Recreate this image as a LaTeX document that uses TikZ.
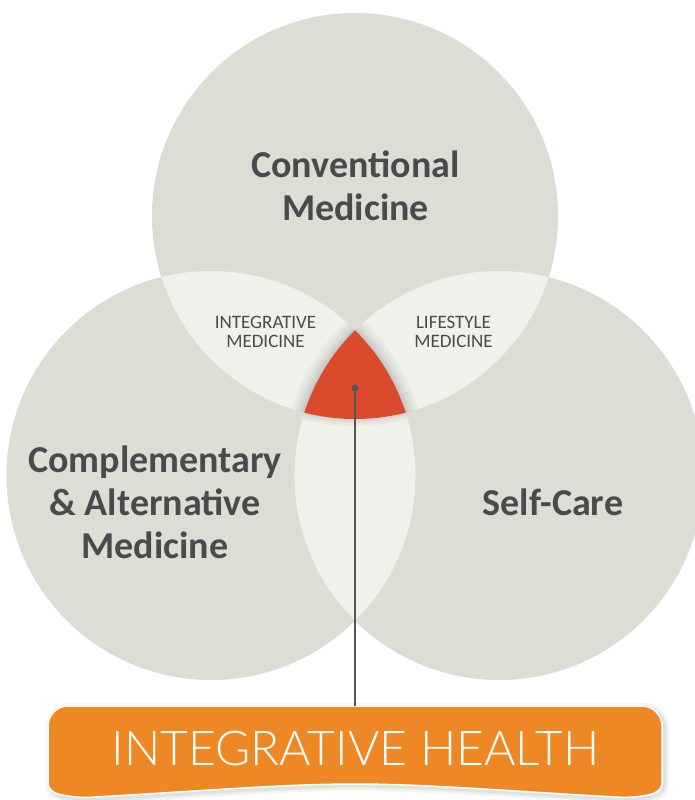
\documentclass[tikz,border=0pt]{standalone}
\usepackage{fontspec}
\setmainfont{Carlito}
\IfFontExistsTF{Lato Light}{\newfontfamily\lightfont{Lato Light}}{\newfontfamily\lightfont{Lato}}
\definecolor{circ}{HTML}{DCDDD4}
\definecolor{lens}{HTML}{F1F1EC}
\definecolor{core}{HTML}{DA4A2C}
\definecolor{boxor}{HTML}{EE8825}
\definecolor{txt}{HTML}{4A4A4C}
\definecolor{linec}{HTML}{555555}
\tikzset{
  big/.style={font=\fontsize{38}{43}\selectfont\bfseries, text=txt, align=center, inner sep=0pt},
  small/.style={font=\fontsize{19}{19}\selectfont, text=txt, align=center, inner sep=0pt},
  title/.style={font=\lightfont\fontsize{48}{48}\selectfont, text=white, inner sep=0pt},
  shade/.style={draw=black, draw opacity=0.035}
}
\begin{document}
\begin{tikzpicture}[x=1pt,y=-1pt]
\useasboundingbox (0,0) rectangle (694,800);
\fill[white] (0,0) rectangle (694,800);
\coordinate (T) at (355,216);
\coordinate (L) at (211,475.5);
\coordinate (R) at (499,475.5);
% circles
\fill[circ] (T) circle[radius=203pt];
\fill[circ] (L) circle[radius=204.5pt];
\fill[circ] (R) circle[radius=204.5pt];
% lenses
\begin{scope}
  \clip (T) circle[radius=203pt];
  \fill[lens] (L) circle[radius=204.5pt];
  \fill[lens] (R) circle[radius=204.5pt];
\end{scope}
\begin{scope}
  \clip (L) circle[radius=204.5pt];
  \fill[lens] (R) circle[radius=204.5pt];
\end{scope}
% shadows around core
\begin{scope}
  \clip (T) circle[radius=203pt];
  \clip (L) circle[radius=204.5pt];
  \foreach \w in {26,18,12,7,3} {\draw[shade, line width=\w pt] (R) circle[radius=204.5pt];}
\end{scope}
\begin{scope}
  \clip (T) circle[radius=203pt];
  \clip (R) circle[radius=204.5pt];
  \foreach \w in {26,18,12,7,3} {\draw[shade, line width=\w pt] (L) circle[radius=204.5pt];}
\end{scope}
\begin{scope}
  \clip (L) circle[radius=204.5pt];
  \clip (R) circle[radius=204.5pt];
  \foreach \w in {14,8,4} {\draw[shade, line width=\w pt] (T) circle[radius=203pt];}
\end{scope}
% core
\begin{scope}
  \clip (T) circle[radius=203pt];
  \clip (L) circle[radius=204.5pt];
  \fill[core] (R) circle[radius=204.5pt];
\end{scope}
% labels
\node[big] (cm) at (355.5,186) {Conventional\\Medicine};
\node[big] (cam) at (155,502) {Complementary\\\& Alternative\\Medicine};
\node[big] (sc) at (553,502) {Self-Care};
\node[small] (im) at (265.5,332) {INTEGRATIVE\\MEDICINE};
\node[small] (lm) at (453.5,332) {LIFESTYLE\\MEDICINE};
% box shadow
\foreach \w in {10,6,3} {
\path[draw=black, draw opacity=0.04, line width=\w pt] (50,785) -- (50,728) .. controls (50,717) and (59,708) .. (70,708) -- (644,708) .. controls (655,708) and (664,717) .. (664,728) -- (664,784) .. controls (664,795) and (654,798) .. (627,799.5) .. controls (522,794) and (432,786) .. (357,786) .. controls (282,786) and (192,794) .. (87,799.5) .. controls (60,798) and (50,795) .. (50,784) -- cycle;
}
% box
\path[fill=boxor, draw=white, line width=1.5pt] (48,785) -- (48,726) .. controls (48,715) and (57,706) .. (68,706) -- (642,706) .. controls (653,706) and (662,715) .. (662,726) -- (662,782) .. controls (662,793) and (652,796) .. (625,797.5) .. controls (520,792) and (430,784) .. (355,784) .. controls (280,784) and (190,792) .. (85,797.5) .. controls (58,796) and (48,793) .. (48,782) -- cycle;
\coordinate (boxtop) at (355,706);
\node[title] (ih) at (355.5,748.5) {INTEGRATIVE HEALTH};
% connector
\node[circle, fill=linec, inner sep=0pt, minimum size=7pt] (dot) at (355,388) {};
\draw[linec, line width=1.6pt] (dot.center) -- (boxtop);
\end{tikzpicture}
\end{document}
